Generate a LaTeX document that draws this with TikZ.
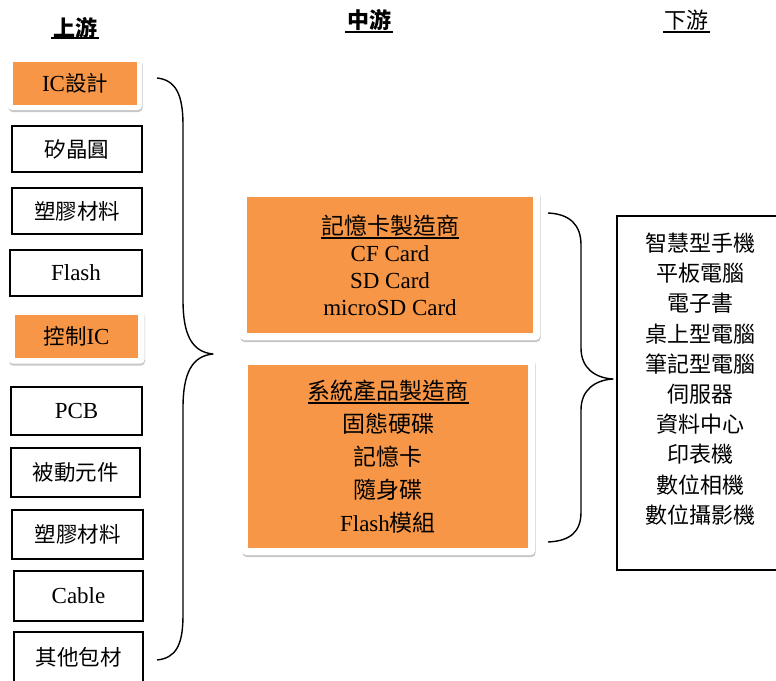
\documentclass[tikz,border=0pt]{standalone}
\usepackage{fontspec}
\setmainfont{Liberation Serif}
\newfontfamily\cjk{Noto Sans CJK TC}
\usetikzlibrary{shadows}
\definecolor{org}{HTML}{F79646}
\newcommand\C[1]{{\cjk #1}}
\newcommand\CL[1]{{\cjk\fontsize{21.5}{25}\selectfont #1}}
\newcommand\myul[1]{\leavevmode\setbox0=\hbox{#1}\rlap{\rule[-4.5pt]{\wd0}{1.6pt}}\box0}
\tikzset{
  plainbox/.style={draw=black, line width=1.6pt, fill=white, inner sep=0pt,
    font=\fontsize{23}{25}\selectfont},
  frame/.style={draw=none, fill=white, rounded corners=4pt,
    drop shadow={shadow xshift=0.5pt, shadow yshift=-2pt, opacity=0.22, fill=black}},
  orangebox/.style={fill=org, draw=none, inner sep=0pt, align=center},
  title/.style={inner sep=0pt, font=\cjk\fontsize{22}{26}\selectfont},
  uline/.style={line width=2pt},
  brace/.style={line width=1.4pt, line join=round},
}
\begin{document}
\begin{tikzpicture}[x=1pt,y=-1pt]
\useasboundingbox (0,0) rectangle (776,680);
\fill[white] (0,0) rectangle (776,680);

% titles
\node[title] (t1) at (75,28) {\bfseries 上游};
\node[title] (t2) at (369,20) {\bfseries 中游};
\node[title] (t3) at (686,20) {下游};
\draw[uline] (51,38) -- (99,38);
\draw[uline] (345,32) -- (393,32);
\draw[uline] (663,32) -- (710,32);

% left column
\node[frame, minimum width=134, minimum height=52] (f1) at (75,84) {};
\node[orangebox, minimum width=124, minimum height=43, font=\fontsize{23}{25}\selectfont] (a1) at (75,83.5) {IC\CL{設計}};
\node[plainbox, minimum width=130, minimum height=46] (a2) at (77,149) {\CL{矽晶圓}};
\node[plainbox, minimum width=130, minimum height=46] (a3) at (77,211) {\CL{塑膠材料}};
\node[plainbox, minimum width=132, minimum height=46] (a4) at (76,273) {Flash};
\node[frame, minimum width=136, minimum height=53] (f2) at (76.5,337) {};
\node[orangebox, minimum width=123, minimum height=43, font=\fontsize{23}{25}\selectfont] (a5) at (76.5,336.5) {\CL{控制}IC};
\node[plainbox, minimum width=131, minimum height=48] (a6) at (76.5,411) {PCB};
\node[plainbox, minimum width=129, minimum height=49] (a7) at (75.5,472.5) {\CL{被動元件}};
\node[plainbox, minimum width=131, minimum height=49] (a8) at (77.5,534.5) {\CL{塑膠材料}};
\node[plainbox, minimum width=129, minimum height=50] (a9) at (78.5,596) {Cable};
\node[plainbox, minimum width=129, minimum height=58] (a10) at (78.5,661) {};
\node[inner sep=0pt] (a10t) at (78.5,657) {\CL{其他包材}};

% left brace
\coordinate (lb1) at (157,78);
\coordinate (lbtip) at (213,354);
\coordinate (lb2) at (157,660);
\draw[brace] (lb1) .. controls (176,80) and (183,95) .. (183,125)
  -- (183,300) .. controls (183,335) and (192,352) .. (lbtip)
  .. controls (192,356) and (183,373) .. (183,408)
  -- (183,615) .. controls (183,645) and (176,658) .. (lb2);

% middle boxes
\node[frame, minimum width=300, minimum height=150] (f3) at (390,265) {};
\node[orangebox, minimum width=286, minimum height=136, font=\fontsize{23}{27}\selectfont] (m1) at (390,265)
  {\C{\myul{記憶卡製造商}}\\CF Card\\SD Card\\microSD Card};
\node[frame, minimum width=293, minimum height=197] (f4) at (388.5,456.5) {};
\node[orangebox, minimum width=280, minimum height=183, font=\fontsize{23}{33}\selectfont] (m2) at (388,456.5)
  {\C{\myul{系統產品製造商}}\\\C{固態硬碟}\\\C{記憶卡}\\\C{隨身碟}\\Flash\C{模組}};

% middle brace
\coordinate (mb1) at (548,213);
\coordinate (mbtip) at (613,379);
\coordinate (mb2) at (548,542);
\draw[brace] (mb1) .. controls (570,214) and (581,225) .. (581,245)
  -- (581,348) .. controls (581,368) and (595,378) .. (mbtip)
  .. controls (595,380) and (581,390) .. (581,410)
  -- (581,512) .. controls (581,532) and (570,541) .. (mb2);

% right box
\draw[line width=1.6pt] (790,216) -- (617,216) -- (617,570) -- (790,570);
\node[inner sep=0pt, align=center, font=\cjk\fontsize{22}{30.2}\selectfont] (r) at (700,379)
  {智慧型手機\\平板電腦\\電子書\\桌上型電腦\\筆記型電腦\\伺服器\\資料中心\\印表機\\數位相機\\數位攝影機};
\end{tikzpicture}
\end{document}
